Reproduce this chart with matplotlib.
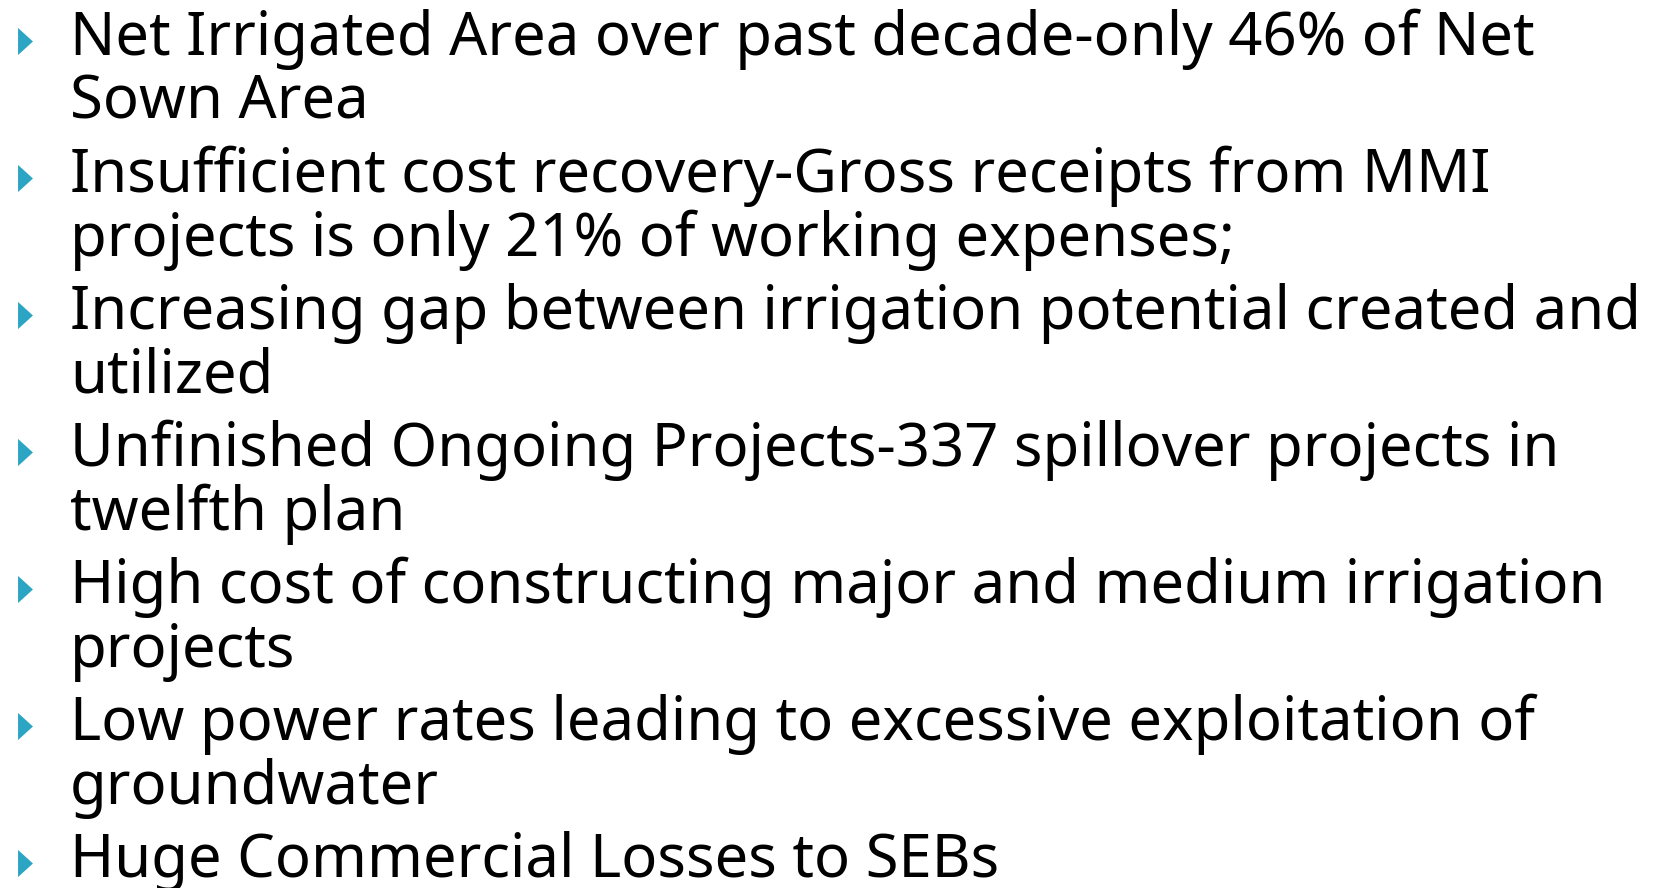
import matplotlib
matplotlib.use("Agg")
import matplotlib.pyplot as plt

# Slide content: each bullet is a list of wrapped lines
bullets = [
    ["Net Irrigated Area over past decade-only 46% of Net", "Sown Area"],
    ["Insufficient cost recovery-Gross receipts from MMI", "projects is only 21% of working expenses;"],
    ["Increasing gap between irrigation potential created and", "utilized"],
    ["Unfinished Ongoing Projects-337 spillover projects in", "twelfth plan"],
    ["High cost of constructing major and medium irrigation", "projects"],
    ["Low power rates leading to excessive exploitation of", "groundwater"],
    ["Huge Commercial Losses to SEBs"],
]

W, H = 1661, 888
fig = plt.figure(figsize=(W / 100, H / 100), dpi=100)
ax = fig.add_axes([0, 0, 1, 1])
ax.set_xlim(0, W)
ax.set_ylim(H, 0)
ax.axis("off")

first_baseline = 55
bullet_step = 137
line_step = 63.5
text_x = 70
family = "Noto Sans"

# size the font so the widest line spans about as far as in the slide
probe = ax.text(0, 0, "Increasing gap between irrigation potential created and",
                fontsize=40, family=family)
r = fig.canvas.get_renderer()
w = probe.get_window_extent(r).width
probe.remove()
fs = 40 * 1570 / w

tri = [(-0.55, -1), (-0.55, 1), (0.55, 0), (-0.55, -1)]

for i, lines in enumerate(bullets):
    y0 = first_baseline + i * bullet_step
    ax.plot([24.5], [y0 - 14], marker=tri, markersize=19.5, color="#2ca5c4",
            markeredgewidth=0, linestyle="none")
    for j, line in enumerate(lines):
        ax.text(text_x, y0 + j * line_step, line, fontsize=fs, va="baseline",
                ha="left", color="black", family=family)

fig.savefig("out.png", dpi=100)
